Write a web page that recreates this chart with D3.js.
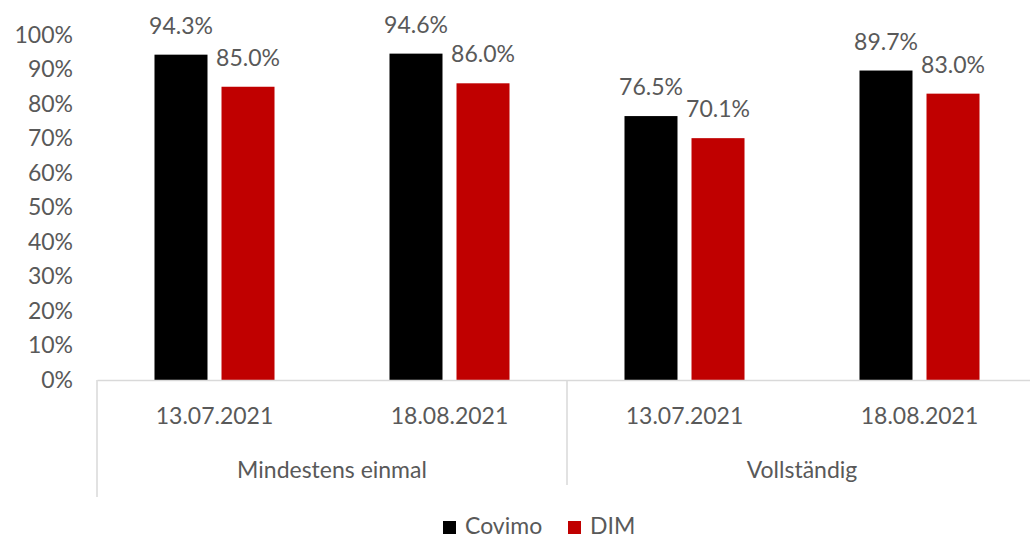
<!DOCTYPE html>
<html>
<head>
<meta charset="utf-8">
<script src="https://cdn.jsdelivr.net/npm/d3@7"></script>
<style>
  html, body { margin: 0; padding: 0; background: #fff; }
  svg { display: block; }
  text { font-family: Lato, "Open Sans", sans-serif; fill: #595959; }
</style>
</head>
<body>
<svg id="chart" width="1030" height="538"></svg>
<script>
const categories = ["c1", "c2", "c3", "c4"];
const dateLabels = ["13.07.2021", "18.08.2021", "13.07.2021", "18.08.2021"];
const groupLabels = ["Mindestens einmal", "Vollständig"];
const seriesNames = ["Covimo", "DIM"];
const covimo = [94.3, 94.6, 76.5, 89.7];
const dim = [85.0, 86.0, 70.1, 83.0];
const yTicks = [0, 10, 20, 30, 40, 50, 60, 70, 80, 90, 100];
const colors = ["#000000", "#C00000"];

const FS = 23;
const svg = d3.select("#chart");
const mLeft = 97, mRight = 1037, mTop = 35, mBottom = 380;

const x0 = d3.scaleBand().domain(categories).range([mLeft, mRight]).paddingInner(0).paddingOuter(0);
const x1 = d3.scaleBand().domain(seriesNames).range([0, x0.bandwidth()]).paddingInner(0.209).paddingOuter(0.858);
const y = d3.scaleLinear().domain([0, 100]).range([mBottom, mTop]);

// y axis labels
const yAxis = d3.axisLeft(y).tickValues(yTicks).tickSize(0).tickPadding(24).tickFormat(d => d + "%");
const gy = svg.append("g").attr("transform", `translate(${mLeft},0)`).call(yAxis);
gy.select(".domain").remove();
gy.selectAll("text").style("font-family", "Lato, sans-serif").style("font-size", FS + "px").attr("fill", "#595959");

// bars
const data = categories.map((c, i) => ({ c, vals: [covimo[i], dim[i]] }));
const cg = svg.append("g").selectAll("g").data(data).join("g")
  .attr("transform", d => `translate(${x0(d.c)},0)`);
cg.selectAll("rect").data(d => d.vals.map((v, j) => ({ s: seriesNames[j], v, j }))).join("rect")
  .attr("x", d => x1(d.s))
  .attr("y", d => y(d.v))
  .attr("width", x1.bandwidth())
  .attr("height", d => y(0) - y(d.v))
  .attr("fill", d => colors[d.j]);
cg.selectAll("text.val").data(d => d.vals.map((v, j) => ({ s: seriesNames[j], v, j }))).join("text")
  .attr("class", "val")
  .attr("x", d => x1(d.s) + x1.bandwidth() / 2)
  .attr("y", d => y(d.v) - 21)
  .attr("text-anchor", "middle")
  .style("font-size", FS + "px")
  .text(d => d.v.toFixed(1) + "%");

// x axis (dates)
const xAxis = d3.axisBottom(x0).tickSize(0).tickPadding(28).tickFormat((d, i) => dateLabels[i]);
const gx = svg.append("g").attr("transform", `translate(0,${mBottom})`).call(xAxis);
gx.select(".domain").attr("stroke", "#d9d9d9").attr("stroke-width", 1.5);
gx.selectAll("text").style("font-family", "Lato, sans-serif").style("font-size", FS + "px").attr("fill", "#595959");

// group separators and labels
const groupScale = d3.scaleBand().domain(groupLabels).range([mLeft, mRight]);
const seps = [mLeft, groupScale(groupLabels[1]), mRight];
svg.append("g").selectAll("line").data(seps).join("line")
  .attr("x1", d => d).attr("x2", d => d)
  .attr("y1", mBottom).attr("y2", (d, i) => i === 1 ? 485 : 497)
  .attr("stroke", "#d9d9d9").attr("stroke-width", 1.5);
svg.append("g").selectAll("text").data(groupLabels).join("text")
  .attr("x", d => groupScale(d) + groupScale.bandwidth() / 2)
  .attr("y", 478)
  .attr("text-anchor", "middle")
  .style("font-size", FS + "px")
  .text(d => d);

// legend
const legend = svg.append("g");
const legX = [443, 568];
seriesNames.forEach((s, i) => {
  legend.append("rect").attr("x", legX[i]).attr("y", 521).attr("width", 13).attr("height", 13).attr("fill", colors[i]);
  legend.append("text").attr("x", legX[i] + 22).attr("y", 534).style("font-size", FS + "px").text(s);
});
</script>
</body>
</html>
